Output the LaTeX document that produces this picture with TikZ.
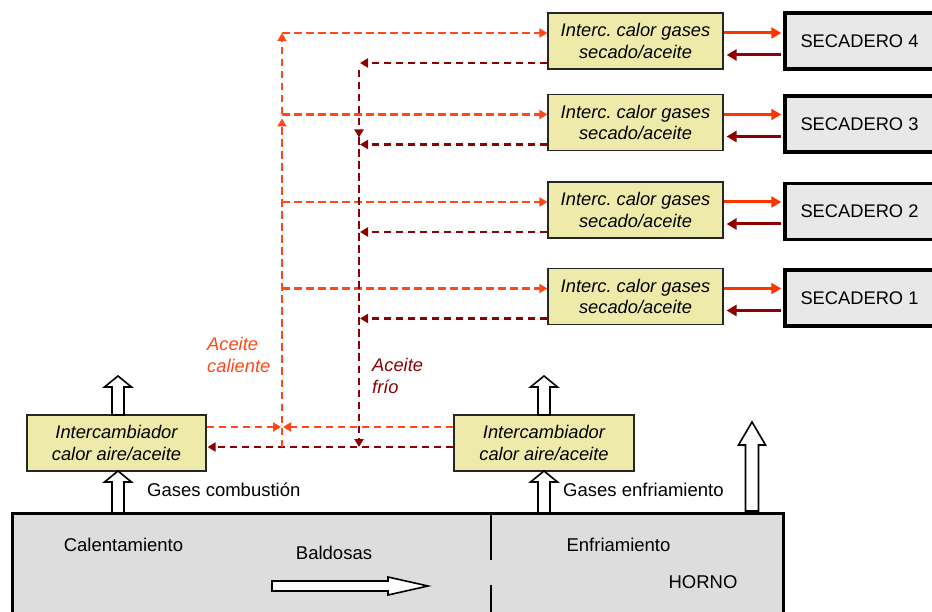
\documentclass[tikz,border=0pt]{standalone}
\usepackage{fontspec}
\setmainfont{Liberation Sans}
\usetikzlibrary{arrows.meta,calc}
\definecolor{hotc}{RGB}{255,72,24}
\definecolor{hotsolid}{RGB}{255,51,0}
\definecolor{coldc}{RGB}{139,0,0}
\definecolor{yelc}{RGB}{238,235,170}
\definecolor{secc}{RGB}{232,232,232}
\definecolor{furnc}{RGB}{221,221,221}
\newcommand{\blkup}[6]{% x, tipy, basey, headlen, shaft half, head half
  \draw[blkarrow] (#1-#5,#3) -- (#1-#5,#2+#4) -- (#1-#6,#2+#4) -- (#1,#2)
    -- (#1+#6,#2+#4) -- (#1+#5,#2+#4) -- (#1+#5,#3) -- cycle;}
\begin{document}
\begin{tikzpicture}[x=1pt,y=-1pt,
  txt/.style={font=\fontsize{18.5}{22}\selectfont, inner sep=0pt},
  exch/.style={draw=black!85, line width=1.2pt, fill=yelc, minimum height=56pt,
    align=center, font=\fontsize{18.3}{21.5}\selectfont\itshape, inner sep=0pt},
  secbox/.style={draw=black, line width=3.5pt, fill=secc, minimum width=149pt,
    minimum height=56pt, font=\fontsize{18.3}{21}\selectfont, inner sep=0pt},
  hotd/.style={draw=hotc, line width=2.3pt, dash pattern=on 7.5pt off 4.5pt},
  coldd/.style={draw=coldc, line width=2.3pt, dash pattern=on 7.5pt off 4.5pt},
  tipd/.style={-{Triangle[length=8pt,width=9pt]}},
  hots/.style={draw=hotsolid, line width=3pt, -{Triangle[length=10pt,width=11pt]}},
  colds/.style={draw=coldc, line width=3pt, -{Triangle[length=10pt,width=11pt]}},
  blkarrow/.style={draw=black, line width=1.6pt, fill=white, line join=miter}]
\clip (0,0) rectangle (932,612);
\fill[white] (0,0) rectangle (932,612);

% furnace
\node[draw=black, line width=3pt, fill=furnc, minimum width=771pt, minimum height=114pt, inner sep=0pt] (horno) at (397.5,570) {};
\draw[line width=1.2pt] (491,514) -- (491,560);
\draw[line width=1.2pt] (491,585) -- (491,615);
\node[txt] (calent) at (123.5,545) {Calentamiento};
\node[txt] (bald) at (334,553) {Baldosas};
\node[txt] (enfr) at (618.5,545) {Enfriamiento};
\node[txt] (hornolab) at (703,582) {HORNO};
\draw[blkarrow] (272,581) -- (388,581) -- (388,577) -- (428,586) -- (388,595) -- (388,591) -- (272,591) -- cycle;

% top exchangers and dryers
\node[exch, minimum width=175pt] (ex4) at (635.5,41) {Interc.\ calor gases\\secado/aceite};
\node[exch, minimum width=175pt] (ex3) at (635.5,122.5) {Interc.\ calor gases\\secado/aceite};
\node[exch, minimum width=175pt] (ex2) at (635.5,210) {Interc.\ calor gases\\secado/aceite};
\node[exch, minimum width=175pt] (ex1) at (635.5,296.5) {Interc.\ calor gases\\secado/aceite};
\node[secbox] (sec4) at (859.5,41) {SECADERO 4};
\node[secbox] (sec3) at (859.5,124) {SECADERO 3};
\node[secbox] (sec2) at (859.5,211.5) {SECADERO 2};
\node[secbox] (sec1) at (859.5,298) {SECADERO 1};

% bottom exchangers
\node[exch, minimum width=179pt] (exL) at (116.5,443) {Intercambiador\\calor aire/aceite};
\node[exch, minimum width=180pt] (exR) at (544,443) {Intercambiador\\calor aire/aceite};

% block arrows
\blkup{118}{376}{415}{11}{6}{13.5}
\blkup{118}{471}{513}{11}{6}{13.5}
\blkup{544}{376}{415}{11}{6}{13.5}
\blkup{544}{471}{513}{11}{6}{13.5}
\blkup{752}{422}{511}{23}{6.5}{13.5}
\node[txt, anchor=west] (gcomb) at (147,490) {Gases combusti\'on};
\node[txt, anchor=west] (genf) at (563,490) {Gases enfriamiento};

% solid arrows exchanger <-> dryer
\foreach \n in {1,2,3,4}{
  \coordinate (rs\n) at ($(ex\n.east)+(0,-8)$);
  \coordinate (rc\n) at ($(ex\n.east)+(3,14)$);
  \draw[hots] (rs\n) -- ($(rs\n -| sec\n.west)+(-2,0)$);
  \draw[colds] ($(rc\n -| sec\n.west)+(-2,0)$) -- (rc\n);
}

% trunks
\coordinate (ht) at (282,0);
\coordinate (ct) at (359,0);
\foreach \n in {1,2,3,4}{
  \coordinate (h\n) at ($(ex\n.west)+(0,-8)$);
  \coordinate (c\n) at ($(ex\n.west)+(0,22)$);
  \draw[hotd,tipd] (h\n -| ht) -- (h\n);
  \draw[coldd,tipd] (c\n) -- ($(c\n -| ct)+(1,0)$);
}
\coordinate (hb) at ($(exL.east)+(0,-16)$);
\coordinate (cb) at ($(exL.east)+(0,4)$);
\coordinate (hbr) at ($(exR.west)+(0,-16)$);
\coordinate (cbr) at ($(exR.west)+(0,4)$);
\draw[hotd,tipd] (hb) -- ($(hb -| ht)+(-1,0)$);
\draw[hotd,tipd] (hbr) -- ($(hbr -| ht)+(1,0)$);
\draw[coldd,tipd] (cbr) -- ($(cb)+(1,0)$);
\draw[hotd,tipd] (cb -| ht) -- ($(h3 -| ht)+(0,4)$);
\draw[hotd,tipd] (h3 -| ht) -- (h4 -| ht);
\draw[coldd,tipd] ($(c4 -| ct)+(0,7)$) -- ($(c3 -| ct)+(0,-7)$);
\draw[coldd,tipd] ($(c3 -| ct)+(0,-7)$) -- (cb -| ct);

% labels
\node[txt, anchor=west, align=left, text=hotc, font=\fontsize{18.3}{22}\selectfont\itshape] (acal) at (207,355) {Aceite\\caliente};
\node[txt, anchor=west, align=left, text=coldc, font=\fontsize{18.3}{22}\selectfont\itshape] (afrio) at (372,376) {Aceite\\fr\'io};
\end{tikzpicture}
\end{document}
